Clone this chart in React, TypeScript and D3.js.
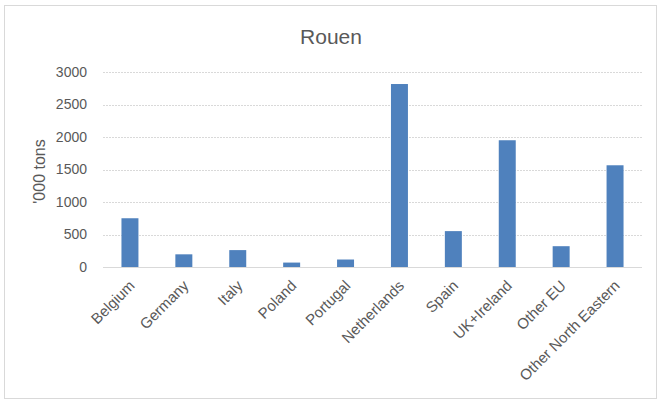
import React, { useEffect, useRef } from 'react';
import * as d3 from 'd3';

const categories = ['Belgium', 'Germany', 'Italy', 'Poland', 'Portugal', 'Netherlands', 'Spain', 'UK+Ireland', 'Other EU', 'Other North Eastern'];
const tons = [750, 195, 260, 68, 115, 2815, 552, 1950, 320, 1565];
const yTicks = [0, 500, 1000, 1500, 2000, 2500, 3000];

const width = 658;
const height = 404;
const margin = { left: 103, right: 16, top: 72, bottom: 137 };
const textColor = '#595959';
const font = '"Liberation Sans", Arial, sans-serif';

const App: React.FC = () => {
  const ref = useRef<SVGSVGElement>(null);

  useEffect(() => {
    const svg = d3.select(ref.current);
    svg.selectAll('*').remove();

    // outer chart border
    svg.append('rect')
      .attr('x', 4.5).attr('y', 5.5)
      .attr('width', 652).attr('height', 393)
      .attr('fill', '#fff')
      .attr('stroke', '#d9d9d9');

    const x = d3.scaleBand()
      .domain(categories)
      .range([margin.left, width - margin.right])
      .paddingInner(0.685)
      .paddingOuter(0.3425);

    const y = d3.scaleLinear()
      .domain([0, 3000])
      .range([height - margin.bottom, margin.top]);

    // gridlines
    svg.append('g')
      .selectAll('line')
      .data(yTicks)
      .enter()
      .append('line')
      .attr('x1', margin.left)
      .attr('x2', width - margin.right)
      .attr('y1', d => Math.round(y(d)) + 0.5)
      .attr('y2', d => Math.round(y(d)) + 0.5)
      .attr('stroke', '#d9d9d9')
      .attr('stroke-dasharray', d => (d === 0 ? null : '2,1'));

    // tick labels
    svg.append('g')
      .selectAll('text')
      .data(yTicks)
      .enter()
      .append('text')
      .attr('x', 87)
      .attr('y', d => y(d))
      .attr('dy', '0.35em')
      .attr('text-anchor', 'end')
      .attr('font-family', font)
      .attr('font-size', 14)
      .attr('fill', textColor)
      .text(d => d);

    // bars
    svg.append('g')
      .selectAll('rect')
      .data(tons)
      .enter()
      .append('rect')
      .attr('x', (d, i) => x(categories[i])!)
      .attr('y', d => y(d))
      .attr('width', x.bandwidth())
      .attr('height', d => y(0) - y(d))
      .attr('fill', '#4f81bd');

    // category labels, rotated like Excel's
    svg.append('g')
      .selectAll('text')
      .data(categories)
      .enter()
      .append('text')
      .attr('transform', d => `translate(${x(d)! + x.bandwidth() / 2 + 2},${y(0) + 16}) rotate(-45)`)
      .attr('text-anchor', 'end')
      .attr('dy', '0.35em')
      .attr('font-family', font)
      .attr('font-size', 15)
      .attr('fill', textColor)
      .text(d => d);

    // axis title
    svg.append('text')
      .attr('transform', `translate(45,${(y(0) + y(3000)) / 2 + 2}) rotate(-90)`)
      .attr('text-anchor', 'middle')
      .attr('font-family', font)
      .attr('font-size', 16)
      .attr('fill', textColor)
      .text("'000 tons");

    // chart title
    svg.append('text')
      .attr('x', 331)
      .attr('y', 44)
      .attr('text-anchor', 'middle')
      .attr('font-family', font)
      .attr('font-size', 21)
      .attr('fill', textColor)
      .text('Rouen');
  }, []);

  return (
    <>
      <style>{'body{margin:0}'}</style>
      <svg ref={ref} width={width} height={height}></svg>
    </>
  );
};

export default App;
